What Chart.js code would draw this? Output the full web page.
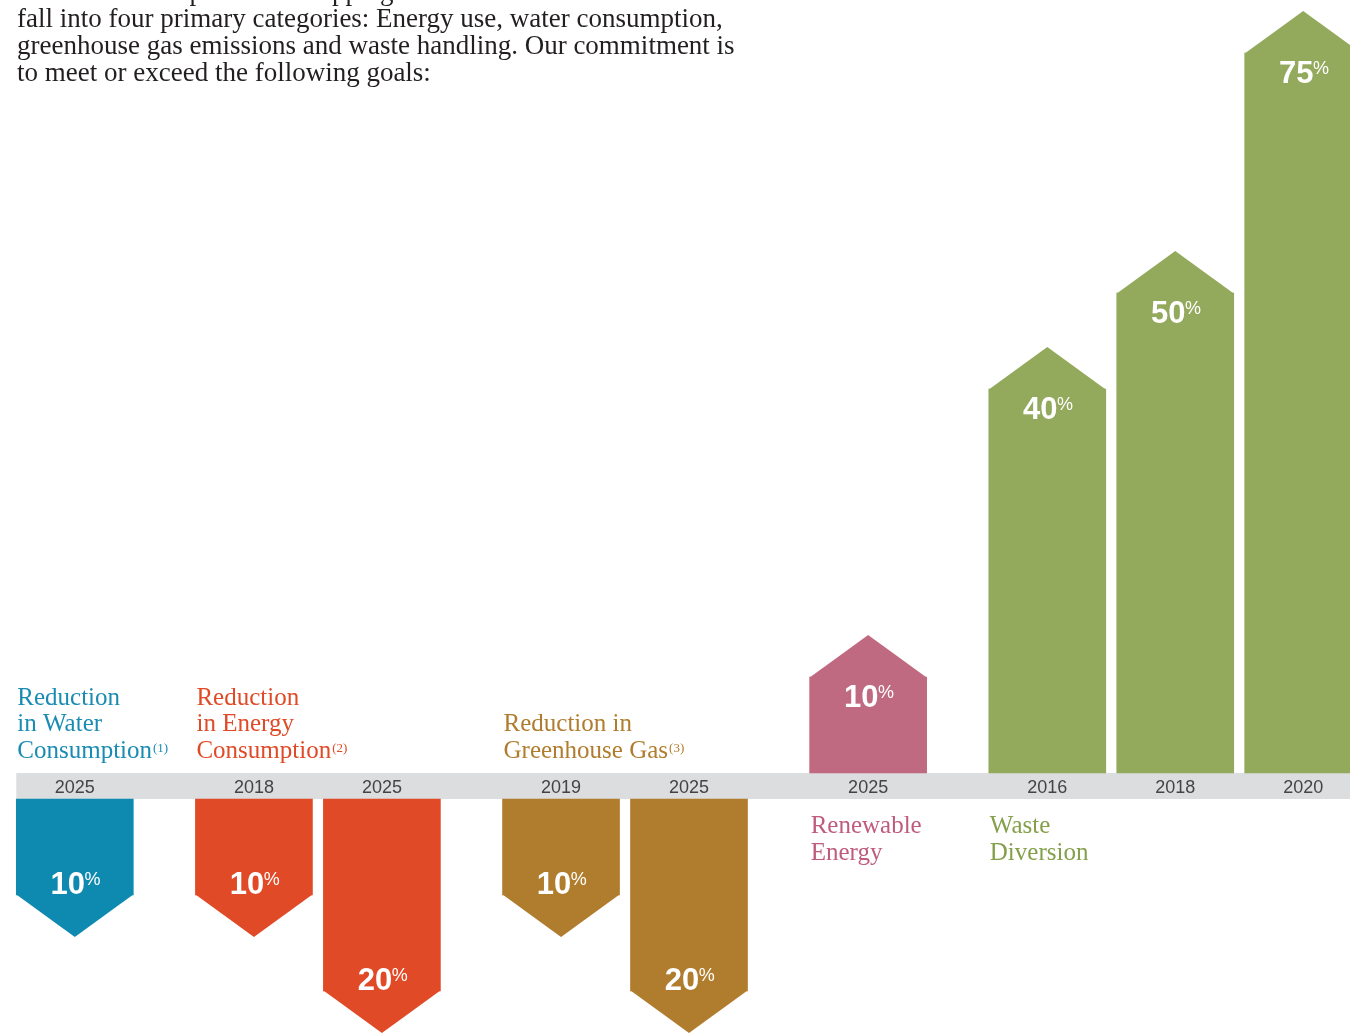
<!DOCTYPE html>
<html>
<head>
<meta charset="utf-8">
<title>Sustainability goals</title>
<script src="https://cdn.jsdelivr.net/npm/chart.js@4.4.1/dist/chart.umd.min.js"></script>
<style>
  html, body { margin: 0; padding: 0; background: #fff; }
  .wrap { position: relative; width: 1350px; height: 1034px; overflow: hidden; }
  .intro {
    position: absolute; left: 17px; top: -22.5px; margin: 0; z-index: 2;
    font: 27px/27.3px "Liberation Serif", serif; color: #231f20; white-space: nowrap;
  }
</style>
</head>
<body>
<div class="wrap">
  <p class="intro">The material impacts our shopping centers have on the environment<br>fall into four primary categories: Energy use, water consumption,<br>greenhouse gas emissions and waste handling. Our commitment is<br>to meet or exceed the following goals:</p>
  <canvas id="goals"></canvas>
</div>
<script>
// goals (percent)
const waterYears = ['2025'];
const waterGoals = [10];
const energyYears = ['2018', '2025'];
const energyGoals = [10, 20];
const ghgYears = ['2019', '2025'];
const ghgGoals = [10, 20];
const renewableYears = ['2025'];
const renewableGoals = [10];
const wasteYears = ['2016', '2018', '2020'];
const wasteGoals = [40, 50, 75];

const groupNames = [
  ['Reduction', 'in Water', 'Consumption'],
  ['Reduction', 'in Energy', 'Consumption'],
  ['Reduction in', 'Greenhouse Gas'],
  ['Renewable', 'Energy'],
  ['Waste', 'Diversion']
];
const groupNotes = ['(1)', '(2)', '(3)', '', ''];

// layout
const BAR_GAP = 4, GROUP_GAP = 6;   // empty slots between bars / groups
const BAR_W = 117, HEAD = 42;
const unitPx = 9.6, upZero = 773, downZero = 799, chartH = 1034;

const groups = [
  {years: waterYears, goals: waterGoals, axis: 'yDown', color: '#0e8ab1', text: '#1a8cb3'},
  {years: energyYears, goals: energyGoals, axis: 'yDown', color: '#e04a27', text: '#e04a27'},
  {years: ghgYears, goals: ghgGoals, axis: 'yDown', color: '#b07c2d', text: '#b07c2d'},
  {years: renewableYears, goals: renewableGoals, axis: 'y', color: '#c06a82', text: '#bf5b7c'},
  {years: wasteYears, goals: wasteGoals, axis: 'y', color: '#93a95c', text: '#84a04a'}
];

const labels = [];
groups.forEach((g, gi) => {
  if (gi > 0) for (let k = 0; k < GROUP_GAP; k++) labels.push('');
  g.slots = [];
  g.years.forEach((yr, i) => {
    if (i > 0) for (let k = 0; k < BAR_GAP; k++) labels.push('');
    g.slots.push(labels.length);
    labels.push(yr);
  });
});

const datasets = groups.map((g, gi) => {
  const data = labels.map(() => null);
  g.slots.forEach((s, i) => { data[s] = g.goals[i]; });
  return {
    data: data,
    yAxisID: g.axis,
    backgroundColor: g.color,
    borderWidth: 0,
    barThickness: BAR_W,
    grouped: false,
    clip: false
  };
});

const decor = {
  id: 'decor',
  beforeDraw(chart) {
    const ctx = chart.ctx;
    const top = chart.scales.y.getPixelForValue(0);
    const bottom = chart.scales.yDown.getPixelForValue(0);
    const left = chart.scales.x.getPixelForValue(0) - BAR_W / 2;
    ctx.save();
    ctx.fillStyle = '#dcdddf';
    ctx.fillRect(left, top, chart.width - left, bottom - top);
    ctx.restore();
  },
  afterDatasetsDraw(chart) {
    const ctx = chart.ctx;
    const bandTop = chart.scales.y.getPixelForValue(0);
    const bandBottom = chart.scales.yDown.getPixelForValue(0);
    ctx.save();
    chart.data.datasets.forEach((ds, di) => {
      const meta = chart.getDatasetMeta(di);
      meta.data.forEach((bar, i) => {
        const v = ds.data[i];
        if (v === null) return;
        const p = bar.getProps(['x', 'y', 'base', 'width'], true);
        const up = p.y < p.base;
        const tip = up ? p.y - HEAD : p.y + HEAD;
        const back = up ? 0.5 : -0.5;
        ctx.fillStyle = ds.backgroundColor;
        ctx.beginPath();
        ctx.moveTo(p.x - p.width / 2, p.y + back);
        ctx.lineTo(p.x + p.width / 2, p.y + back);
        ctx.lineTo(p.x, tip);
        ctx.closePath();
        ctx.fill();

        // value label
        const num = String(v);
        ctx.fillStyle = '#fff';
        ctx.textBaseline = 'alphabetic';
        ctx.textAlign = 'left';
        ctx.font = 'bold 31px "Liberation Sans", Arial, sans-serif';
        const wNum = ctx.measureText(num).width;
        ctx.font = '18px "Liberation Sans", Arial, sans-serif';
        const wPct = ctx.measureText('%').width;
        const total = wNum + wPct;
        const base = up ? p.y + 30 : p.y - 1;
        const x0 = p.x - total / 2 + 1;
        ctx.font = 'bold 31px "Liberation Sans", Arial, sans-serif';
        ctx.fillText(num, x0, base);
        ctx.font = '18px "Liberation Sans", Arial, sans-serif';
        ctx.fillText('%', x0 + wNum - 0.5, base - 9.5);
      });
    });

    // group names
    groups.forEach((g, gi) => {
      const meta = chart.getDatasetMeta(gi);
      const first = meta.data[g.slots[0]];
      const left = first.x - BAR_W / 2 + 1;
      const lines = groupNames[gi];
      const lh = 26.7;
      const down = g.axis === 'yDown';
      ctx.fillStyle = g.text;
      ctx.textAlign = 'left';
      ctx.textBaseline = 'alphabetic';
      lines.forEach((line, li) => {
        const yb = down ? bandTop - 15 - (lines.length - 1 - li) * lh : bandBottom + 34 + li * lh;
        ctx.font = '25px "Liberation Serif", serif';
        ctx.fillText(line, left, yb);
        if (li === lines.length - 1 && groupNotes[gi]) {
          const w = ctx.measureText(line).width;
          ctx.font = '13px "Liberation Serif", serif';
          ctx.fillText(groupNotes[gi], left + w + 1, yb - 6);
        }
      });
    });
    ctx.restore();
  }
};

new Chart(document.getElementById('goals'), {
  type: 'bar',
  data: { labels: labels, datasets: datasets },
  options: {
    responsive: true,
    maintainAspectRatio: false,
    animation: false,
    events: [],
    layout: { padding: { left: 62, right: 34, top: 0, bottom: 0 } },
    plugins: { legend: { display: false }, tooltip: { enabled: false } },
    scales: {
      x: {
        position: { y: 0 },
        offset: true,
        grid: { display: false, drawTicks: false },
        border: { display: false },
        ticks: {
          autoSkip: false, maxRotation: 0, padding: 4,
          color: '#444446',
          font: { family: '"Liberation Sans", Arial, sans-serif', size: 18 }
        }
      },
      y: {
        display: false,
        min: -(chartH - upZero) / unitPx,
        max: upZero / unitPx
      },
      yDown: {
        display: false,
        reverse: true,
        min: -downZero / unitPx,
        max: (chartH - downZero) / unitPx
      }
    }
  },
  plugins: [decor]
});
</script>
</body>
</html>
